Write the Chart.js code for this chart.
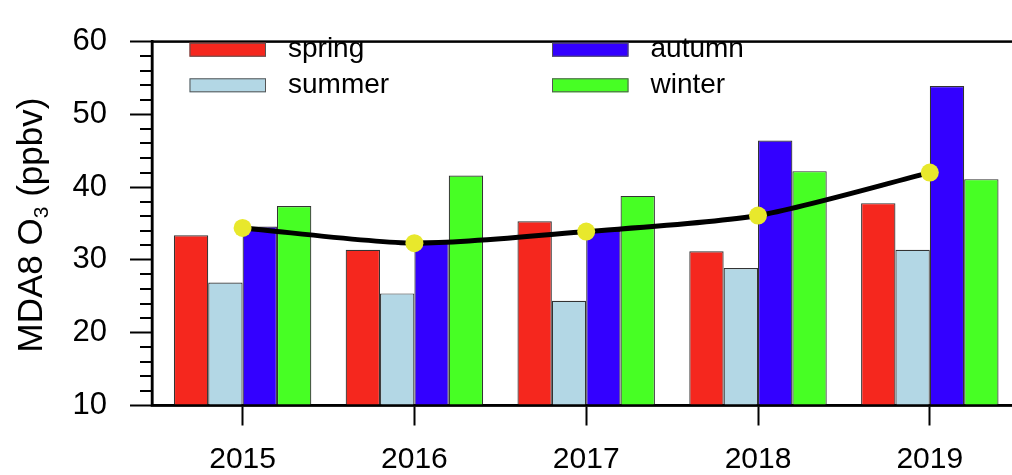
<!DOCTYPE html>
<html>
<head>
<meta charset="utf-8">
<script src="https://cdn.jsdelivr.net/npm/chart.js@4.4.1/dist/chart.umd.min.js"></script>
<style>
  html, body { margin: 0; padding: 0; background: #fff; overflow: hidden; }
  #wrap { position: absolute; left: 0; top: 0; width: 1030px; height: 475px; }
</style>
</head>
<body>
<div id="wrap"><canvas id="c"></canvas></div>
<script>
// Seasonal MDA8 O3 (ppbv), 2015-2019
const years  = [2015, 2016, 2017, 2018, 2019];
const spring = [33.4, 31.4, 35.3, 31.2, 37.8];
const summer = [26.9, 25.4, 24.4, 28.9, 31.4];
const autumn = [34.6, 32.7, 34.0, 46.4, 53.9];
const winter = [37.4, 41.6, 38.8, 42.2, 41.1];
const annual = [34.4, 32.3, 33.9, 36.1, 42.0];
const yTickValues = [10, 20, 30, 40, 50, 60];
const yMinorValues = [12, 14, 16, 18, 22, 24, 26, 28, 32, 34, 36, 38, 42, 44, 46, 48, 52, 54, 56, 58];

const seasonNames  = ['spring', 'summer', 'autumn', 'winter'];
const seasonSeries = [spring, summer, autumn, winter];
const seasonColors = ['#f5271e', '#b3d7e5', '#3300ff', '#47ff24'];

const FONT = '"Liberation Sans", Arial, Helvetica, sans-serif';

const toXY = arr => arr.map((v, i) => ({ x: years[i], y: v }));

const barSets = seasonNames.map((name, i) => ({
  type: 'bar',
  label: name,
  data: toXY(seasonSeries[i]),
  backgroundColor: seasonColors[i],
  borderColor: '#333',
  borderWidth: 1.2,
  categoryPercentage: 0.8,
  barPercentage: 1.0,
  order: 2
}));

const lineSet = {
  type: 'line',
  label: 'annual',
  data: toXY(annual),
  borderColor: '#000',
  borderWidth: 5,
  tension: 0.25,
  pointRadius: 9,
  pointHoverRadius: 9,
  pointBackgroundColor: '#e8e82c',
  pointBorderWidth: 0,
  order: 1
};

// frame, minor ticks, legend and rotated axis title with subscript
const decorations = {
  id: 'decorations',
  afterDatasetsDraw(chart) {
    const { ctx, chartArea: a } = chart;
    ctx.save();
    ctx.strokeStyle = '#000';
    ctx.lineWidth = 2.5;
    ctx.strokeRect(a.left, a.top, a.right - a.left, a.bottom - a.top);
    ctx.restore();
  },
  afterDraw(chart) {
    const { ctx, chartArea: a } = chart;
    const ys = chart.scales.y;

    // minor y ticks
    ctx.save();
    ctx.strokeStyle = '#000';
    ctx.lineWidth = 2;
    yMinorValues.forEach(v => {
      const py = Math.round(ys.getPixelForValue(v));
      ctx.beginPath();
      ctx.moveTo(a.left - 12, py);
      ctx.lineTo(a.left, py);
      ctx.stroke();
    });
    ctx.restore();

    // legend in two columns
    ctx.save();
    const cols = [189.5, 552];
    const rows = [42.7, 78.3];
    const bw = 76.5, bh = 14;
    ctx.font = '28px ' + FONT;
    ctx.textBaseline = 'alphabetic';
    ctx.textAlign = 'left';
    seasonNames.forEach((name, i) => {
      const bx = cols[Math.floor(i / 2)];
      const by = rows[i % 2];
      ctx.fillStyle = seasonColors[i];
      ctx.fillRect(bx, by, bw, bh);
      ctx.strokeStyle = '#555';
      ctx.lineWidth = 1;
      ctx.strokeRect(bx + 0.5, by + 0.5, bw - 1, bh - 1);
      ctx.fillStyle = '#000';
      ctx.fillText(name, bx + 98.5, by + bh + 0.5);
    });
    ctx.restore();

    // y axis title: MDA8 O3 (ppbv)
    ctx.save();
    const cy = (a.top + a.bottom) / 2 + 1.5;
    ctx.translate(41.5, cy);
    ctx.rotate(-Math.PI / 2);
    ctx.fillStyle = '#000';
    ctx.textBaseline = 'alphabetic';
    ctx.textAlign = 'left';
    const mainFont = '35px ' + FONT;
    const subFont = '21px ' + FONT;
    const p1 = 'MDA8 O', p2 = '3', p3 = ' (ppbv)';
    ctx.font = mainFont;
    const w1 = ctx.measureText(p1).width;
    const w3 = ctx.measureText(p3).width;
    ctx.font = subFont;
    const w2 = ctx.measureText(p2).width;
    let x = -(w1 + w2 + w3) / 2;
    ctx.font = mainFont;
    ctx.fillText(p1, x, 0);
    x += w1;
    ctx.font = subFont;
    ctx.fillText(p2, x, 6.5);
    x += w2;
    ctx.font = mainFont;
    ctx.fillText(p3, x, 0);
    ctx.restore();
  }
};

new Chart(document.getElementById('c'), {
  type: 'bar',
  data: { datasets: [lineSet, ...barSets] },
  options: {
    responsive: true,
    maintainAspectRatio: false,
    animation: false,
    layout: { padding: { left: 0, top: 23, right: 8, bottom: 0 } },
    plugins: {
      legend: { display: false },
      tooltip: { enabled: false },
      title: { display: false }
    },
    scales: {
      x: {
        type: 'linear',
        offset: false,
        min: 2014.4727,
        max: 2019.5308,
        afterBuildTicks: s => { s.ticks = years.map(v => ({ value: v })); },
        afterFit: s => { s.height = 69.5; },
        ticks: {
          color: '#000',
          font: { family: FONT, size: 30 },
          padding: 16,
          maxRotation: 0,
          autoSkip: false,
          callback: v => String(v)
        },
        grid: {
          offset: false,
          drawOnChartArea: false,
          drawTicks: true,
          tickLength: 20,
          tickWidth: 2,
          tickColor: '#000'
        },
        border: { display: true, color: '#000', width: 2.5 }
      },
      y: {
        type: 'linear',
        min: 10,
        max: 60,
        afterBuildTicks: s => { s.ticks = yTickValues.map(v => ({ value: v })); },
        afterFit: s => { s.width = 152; },
        ticks: {
          color: '#000',
          font: { family: FONT, size: 31 },
          padding: 23,
          callback: v => String(v)
        },
        grid: {
          drawOnChartArea: false,
          drawTicks: true,
          tickLength: 22,
          tickWidth: 2,
          tickColor: '#000'
        },
        border: { display: true, color: '#000', width: 2.5 }
      }
    }
  },
  plugins: [decorations]
});
</script>
</body>
</html>
